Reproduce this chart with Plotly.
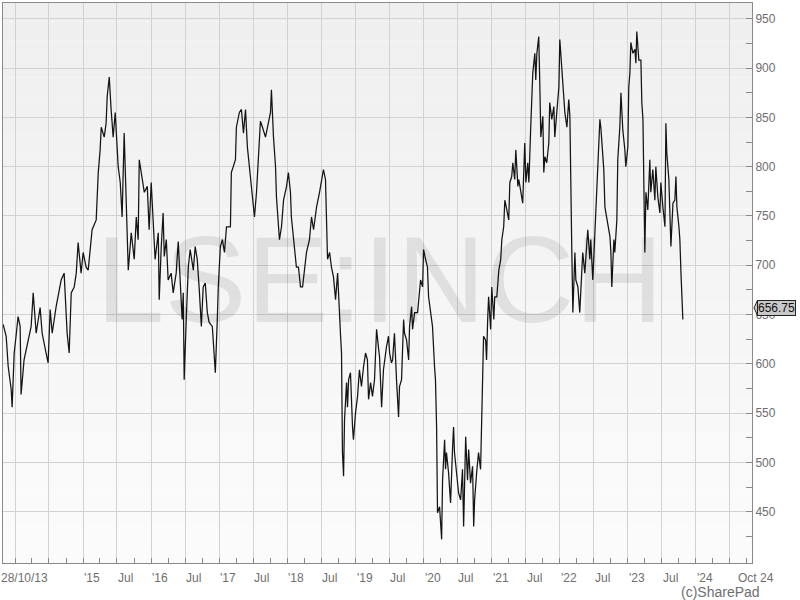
import pandas as pd
import plotly.graph_objects as go

# closing prices (pence), dates as year-dayofyear
trade_days = [
    "2013-302", "2013-318", "2013-329", "2013-345", "2013-350", "2013-361",
    "2014-006", "2014-017", "2014-028", "2014-033", "2014-049", "2014-065", "2014-087", "2014-098", "2014-114",
    "2014-135", "2014-146", "2014-167", "2014-178", "2014-189", "2014-200", "2014-221", "2014-237", "2014-248",
    "2014-264", "2014-280", "2014-291", "2014-302", "2014-318", "2014-329", "2014-339", "2014-355",
    "2015-001", "2015-017", "2015-028", "2015-039", "2015-049", "2015-071", "2015-076", "2015-082", "2015-092",
    "2015-098", "2015-114", "2015-124", "2015-130", "2015-141", "2015-151", "2015-162", "2015-173", "2015-189",
    "2015-200", "2015-210", "2015-221", "2015-232", "2015-243", "2015-259", "2015-275", "2015-286", "2015-296",
    "2015-302", "2015-318", "2015-329", "2015-345", "2015-355",
    "2016-001", "2016-012", "2016-022", "2016-039", "2016-044", "2016-055", "2016-065", "2016-071", "2016-082",
    "2016-092", "2016-108", "2016-119", "2016-135", "2016-146", "2016-157", "2016-167", "2016-173", "2016-178",
    "2016-189", "2016-200", "2016-210", "2016-227", "2016-237", "2016-248", "2016-259", "2016-270", "2016-280",
    "2016-291", "2016-302", "2016-312", "2016-329", "2016-339", "2016-345", "2016-355", "2016-361",
    "2017-006", "2017-017", "2017-028", "2017-039", "2017-060", "2017-065", "2017-087", "2017-092", "2017-108",
    "2017-119", "2017-130", "2017-141", "2017-151", "2017-162", "2017-173", "2017-189", "2017-200", "2017-210",
    "2017-221", "2017-232", "2017-248", "2017-259", "2017-275", "2017-280", "2017-291", "2017-302", "2017-307",
    "2017-323", "2017-334", "2017-345", "2017-361",
    "2018-006", "2018-017", "2018-022", "2018-033", "2018-049", "2018-060", "2018-071", "2018-082", "2018-098",
    "2018-103", "2018-119", "2018-130", "2018-141", "2018-157", "2018-173", "2018-184", "2018-194", "2018-205",
    "2018-216", "2018-227", "2018-237", "2018-248", "2018-259", "2018-270", "2018-275", "2018-286", "2018-291",
    "2018-296", "2018-302", "2018-307", "2018-318", "2018-323", "2018-329", "2018-339", "2018-350", "2018-355",
    "2019-001", "2019-012", "2019-022", "2019-033", "2019-044", "2019-055", "2019-065", "2019-071", "2019-082",
    "2019-092", "2019-103", "2019-114", "2019-124", "2019-130", "2019-141", "2019-151", "2019-167", "2019-178",
    "2019-184", "2019-194", "2019-200", "2019-210", "2019-221", "2019-232", "2019-237", "2019-248", "2019-259",
    "2019-264", "2019-275", "2019-286", "2019-291", "2019-302", "2019-307", "2019-318", "2019-334", "2019-339",
    "2019-350", "2019-361",
    "2020-001", "2020-012", "2020-022", "2020-028", "2020-039", "2020-049", "2020-060", "2020-065", "2020-071",
    "2020-076", "2020-087", "2020-098", "2020-103", "2020-114", "2020-119", "2020-124", "2020-135", "2020-146",
    "2020-157", "2020-162", "2020-167", "2020-184", "2020-189", "2020-200", "2020-210", "2020-216", "2020-221",
    "2020-227", "2020-237", "2020-243", "2020-253", "2020-264", "2020-270", "2020-275", "2020-286", "2020-296",
    "2020-307", "2020-312", "2020-318", "2020-323", "2020-334", "2020-339", "2020-345", "2020-350", "2020-361",
    "2021-001", "2021-012", "2021-017", "2021-028", "2021-039", "2021-049", "2021-055", "2021-065", "2021-071",
    "2021-082", "2021-092", "2021-098", "2021-108", "2021-114", "2021-124", "2021-130", "2021-141", "2021-146",
    "2021-157", "2021-167", "2021-178", "2021-184", "2021-194", "2021-200", "2021-210", "2021-216", "2021-221",
    "2021-232", "2021-237", "2021-243", "2021-253", "2021-259", "2021-264", "2021-275", "2021-280", "2021-286",
    "2021-296", "2021-307", "2021-312", "2021-323", "2021-334", "2021-339", "2021-350", "2021-361",
    "2022-001", "2022-012", "2022-022", "2022-028", "2022-039", "2022-049", "2022-055", "2022-060", "2022-065",
    "2022-071", "2022-082", "2022-087", "2022-098", "2022-108", "2022-114", "2022-124", "2022-135", "2022-141",
    "2022-151", "2022-162", "2022-167", "2022-178", "2022-189", "2022-194", "2022-205", "2022-216", "2022-221",
    "2022-227", "2022-237", "2022-243", "2022-253", "2022-264", "2022-270", "2022-275", "2022-280", "2022-291",
    "2022-296", "2022-307", "2022-312", "2022-323", "2022-329", "2022-339", "2022-350", "2022-355",
    "2023-001", "2023-006", "2023-012", "2023-017", "2023-028", "2023-039", "2023-044", "2023-049", "2023-060",
    "2023-071", "2023-076", "2023-082", "2023-087", "2023-092", "2023-098", "2023-108", "2023-119", "2023-124",
    "2023-135", "2023-146", "2023-151", "2023-162", "2023-173", "2023-178", "2023-189", "2023-200", "2023-205",
    "2023-210", "2023-221", "2023-227", "2023-232", "2023-243", "2023-253", "2023-259", "2023-264", "2023-275",
    "2023-280", "2023-286", "2023-296",
]
close_px = [
    640, 628, 597, 574, 556, 611,
    628, 648, 638, 569, 604, 617, 638, 672, 631,
    657, 631, 611, 601, 655, 631, 658, 675, 685,
    692, 631, 611, 672, 678, 692, 723, 692,
    713, 698, 695, 719, 736, 746, 780, 794, 817,
    840, 830, 844, 871, 891, 858, 830, 855, 800,
    784, 749, 834, 753, 695, 733, 706, 749, 726,
    807, 787, 774, 780, 736,
    784, 746, 706, 733, 665, 719, 753, 709, 726,
    685, 692, 672, 692, 724, 675, 645, 672, 584,
    645, 698, 716, 695, 719, 706, 675, 638, 678,
    682, 652, 642, 638, 611, 591, 642, 678,
    719, 726, 713, 739, 739, 794, 807, 840, 855,
    858, 834, 858, 820, 797, 780, 749, 774, 807,
    846, 840, 830, 840, 855, 878, 830, 800, 769,
    726, 739, 766, 780,
    794, 774, 749, 726, 698, 698, 678, 678, 702,
    713, 726, 749, 736, 759, 774, 787, 797, 787,
    706, 713, 698, 688, 665, 692, 668, 628, 611,
    510, 486, 543, 581, 556, 584, 591, 536, 523,
    550, 567, 594, 577, 597, 611, 604, 564, 581,
    567, 584, 635, 617, 607, 556, 594, 617, 628,
    611, 601, 604, 631, 584, 546, 577, 584, 645,
    631, 624, 604, 638, 658, 635, 652, 652, 662,
    685, 678,
    716, 706, 698, 668, 652, 638, 597, 584, 536,
    449, 455, 422, 482, 523, 493, 510, 490, 459,
    516, 536, 510, 482, 469, 462, 493, 435, 496,
    526, 482, 513, 479, 496, 435, 462, 490, 510,
    493, 536, 577, 628, 624, 604, 645, 668, 635,
    678, 645, 668, 668, 695, 706, 726, 739, 766,
    756, 746, 784, 790, 804, 787, 817, 780, 787,
    774, 763, 824, 784, 804, 784, 840, 865, 895,
    915, 888, 915, 932, 881, 830, 851, 794, 810,
    804, 824, 865, 848, 861, 830, 855, 881,
    929, 898, 878, 855, 840, 868, 851, 746, 719,
    652, 713, 685, 678, 652, 672, 713, 692, 713,
    736, 706, 726, 685, 733, 753, 790, 848, 840,
    820, 797, 759, 749, 739, 729, 713, 678, 726,
    713, 746, 807, 840, 875, 837, 817, 800,
    820, 881, 895, 926, 915, 919, 905, 937, 908,
    908, 865, 848, 777, 713, 774, 756, 807, 774,
    797, 766, 800, 769, 753, 784, 759, 739, 844,
    814, 787, 739, 719, 763, 766, 790, 759, 739,
    726, 692, 645,
]

ticker = "LSE:INCH"
last_price = 656.75

x_start, x_end = "2013-10-28", "2024-10-28"
grid_dates = [f"{y}-{m}-01" for y in range(2014, 2025) for m in ("01", "07")]
label_dates = ["2015-01-01", "2015-07-01", "2016-01-01", "2016-07-01", "2017-01-01", "2017-07-01",
               "2018-01-01", "2018-07-01", "2019-01-01", "2019-07-01", "2020-01-01", "2020-07-01",
               "2021-01-01", "2021-07-01", "2022-01-01", "2022-07-01", "2023-01-01", "2023-07-01",
               "2024-01-01"]
label_texts = ["'15", "Jul", "'16", "Jul", "'17", "Jul", "'18", "Jul", "'19", "Jul", "'20", "Jul",
               "'21", "Jul", "'22", "Jul", "'23", "Jul", "'24"]
y_ticks = [450, 500, 550, 600, 650, 700, 750, 800, 850, 900, 950]
y_minor = [425, 475, 525, 575, 625, 675, 725, 775, 825, 875, 925, 950]

dates = pd.to_datetime(trade_days, format="%Y-%j")

fig = go.Figure(go.Scatter(x=dates, y=close_px, mode="lines",
                           line=dict(color="#141414", width=1.25), hoverinfo="skip"))

# soft vertical gradient behind the plot
n = 30
for i in range(n):
    g = round(239 + (251 - 239) * i / (n - 1))
    fig.add_shape(type="rect", xref="x domain", yref="y domain", x0=0, x1=1,
                  y0=1 - (i + 1) / n, y1=1 - i / n, fillcolor=f"rgb({g},{g},{g})",
                  line_width=0, layer="below")

grey_txt = "#6e6e6e"
axis_col = "#8a8a8a"

fig.update_layout(
    width=800, height=600,
    margin=dict(l=3, r=48, t=3, b=37),
    paper_bgcolor="white", plot_bgcolor="rgba(0,0,0,0)",
    showlegend=False,
    font=dict(family="Liberation Sans, Arial, sans-serif", size=12, color=grey_txt),
)
fig.update_xaxes(type="date", range=[x_start, x_end], tickvals=grid_dates, showticklabels=False,
                 ticks="inside", ticklen=5, tickcolor=axis_col,
                 showgrid=True, gridcolor="#d2d2d2", gridwidth=1,
                 showline=True, linecolor=axis_col, linewidth=1, mirror=True,
                 minor=dict(dtick="M3", tick0="2014-01-01", ticks="inside", ticklen=5,
                            tickcolor=axis_col, showgrid=False),
                 zeroline=False)
fig.update_yaxes(side="right", range=[398, 966], tickvals=y_ticks,
                 ticks="inside", ticklen=6, tickcolor=axis_col,
                 showgrid=True, gridcolor="#d2d2d2", gridwidth=1,
                 showline=True, linecolor=axis_col, linewidth=1, mirror=True,
                 minor=dict(tickvals=y_minor, ticks="inside", ticklen=6, tickcolor=axis_col, showgrid=False),
                 tickfont=dict(size=12, color=grey_txt), zeroline=False)

# watermark
fig.add_annotation(text=ticker, xref="paper", yref="paper", x=0.503, y=0.507,
                   xanchor="center", yanchor="middle", showarrow=False,
                   font=dict(size=123, color="rgba(0,0,0,0.085)", family="Liberation Sans, Arial"))

# x tick labels, left aligned on the tick
for d, t in zip(label_dates, label_texts):
    fig.add_annotation(text=t, x=d, xref="x", y=0, yref="paper", xanchor="left", yanchor="top",
                       yshift=-6, xshift=-1, showarrow=False, font=dict(size=12, color=grey_txt))
fig.add_annotation(text="28/10/13", x=x_start, xref="x", y=0, yref="paper", xanchor="left",
                   yanchor="top", yshift=-6, xshift=-4, showarrow=False, font=dict(size=12, color=grey_txt))
fig.add_annotation(text="Oct 24", x=x_end, xref="x", y=0, yref="paper", xanchor="center",
                   yanchor="top", yshift=-6, xshift=4, showarrow=False, font=dict(size=12, color=grey_txt))

# last price tag
fig.add_shape(type="path", xref="paper", yref="y",
              path=f"M 1.0027,{last_price} L 1.0075,{last_price + 8} L 1.0075,{last_price - 8} Z",
              fillcolor="#c8c8c8", line=dict(color="#222", width=1), layer="above")
fig.add_annotation(text=f"{last_price:.2f}", x=1, xref="paper", y=last_price, yref="y",
                   xanchor="left", yanchor="middle", xshift=5, showarrow=False,
                   bgcolor="#c8c8c8", bordercolor="#222", borderwidth=1, borderpad=0,
                   font=dict(size=12, color="#111"))

fig.add_annotation(text="(c)SharePad", xref="paper", yref="paper", x=1.0134, y=-0.052,
                   xanchor="right", yanchor="middle", showarrow=False,
                   font=dict(size=14, color=grey_txt))

fig.write_html("out.html", config={"displayModeBar": False},
               post_script="document.body.style.margin='0';")
